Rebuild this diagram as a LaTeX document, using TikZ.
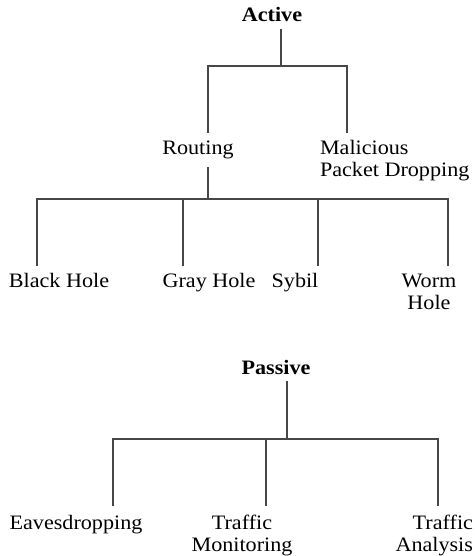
\documentclass[tikz,border=0pt]{standalone}
\usepackage{fontspec}
\setmainfont[FakeStretch=1.08]{Liberation Serif}
\begin{document}
\begin{tikzpicture}[x=1pt,y=-1pt,
  lbl/.style={inner sep=0pt,outer sep=0pt,font=\fontsize{20.5}{22}\selectfont,anchor=base},
  hd/.style={lbl,font=\fontsize{20.5}{22}\selectfont\bfseries},
  conn/.style={draw=black!72,line width=1.1pt}]
\useasboundingbox (0,0) rectangle (474,556);
% Active tree
\node[hd] (active) at (272,22) {Active};
\node[lbl] (routing) at (198,154) {Routing};
\node[lbl,anchor=base west,align=left] (mal) at (320,176) {Malicious\\Packet Dropping};
\node[lbl] (black) at (59,287) {Black Hole};
\node[lbl] (gray) at (209,287) {Gray Hole};
\node[lbl] (sybil) at (295,287) {Sybil};
\node[lbl,align=center] (worm) at (429,309) {Worm\\Hole};
\coordinate (a1) at (281,29);
\coordinate (a2) at (281,66);
\coordinate (r0) at (208,133);
\coordinate (m0) at (347,133);
\draw[conn] (a1) -- (a2);
\draw[conn] (r0) |- (a2) -| (m0);
\coordinate (r1) at (208,167);
\coordinate (r2) at (208,199);
\coordinate (b0) at (37,266);
\coordinate (g0) at (183,266);
\coordinate (s0) at (318,266);
\coordinate (w0) at (448,266);
\draw[conn] (r1) -- (r2);
\draw[conn] (b0) |- (r2) -| (w0);
\draw[conn] (g0) -- (g0 |- r2);
\draw[conn] (s0) -- (s0 |- r2);
% Passive tree
\node[hd] (passive) at (276,374) {Passive};
\node[lbl] (eaves) at (76,529) {Eavesdropping};
\node[lbl,align=center] (mon) at (242,551) {Traffic\\Monitoring};
\node[lbl,anchor=base east,align=right] (ana) at (473,551) {Traffic\\Analysis};
\coordinate (p1) at (287,381);
\coordinate (p2) at (287,439);
\coordinate (e0) at (113,506);
\coordinate (t0) at (266,506);
\coordinate (n0) at (438,506);
\draw[conn] (p1) -- (p2);
\draw[conn] (e0) |- (p2) -| (n0);
\draw[conn] (t0) -- (t0 |- p2);
\end{tikzpicture}
\end{document}
